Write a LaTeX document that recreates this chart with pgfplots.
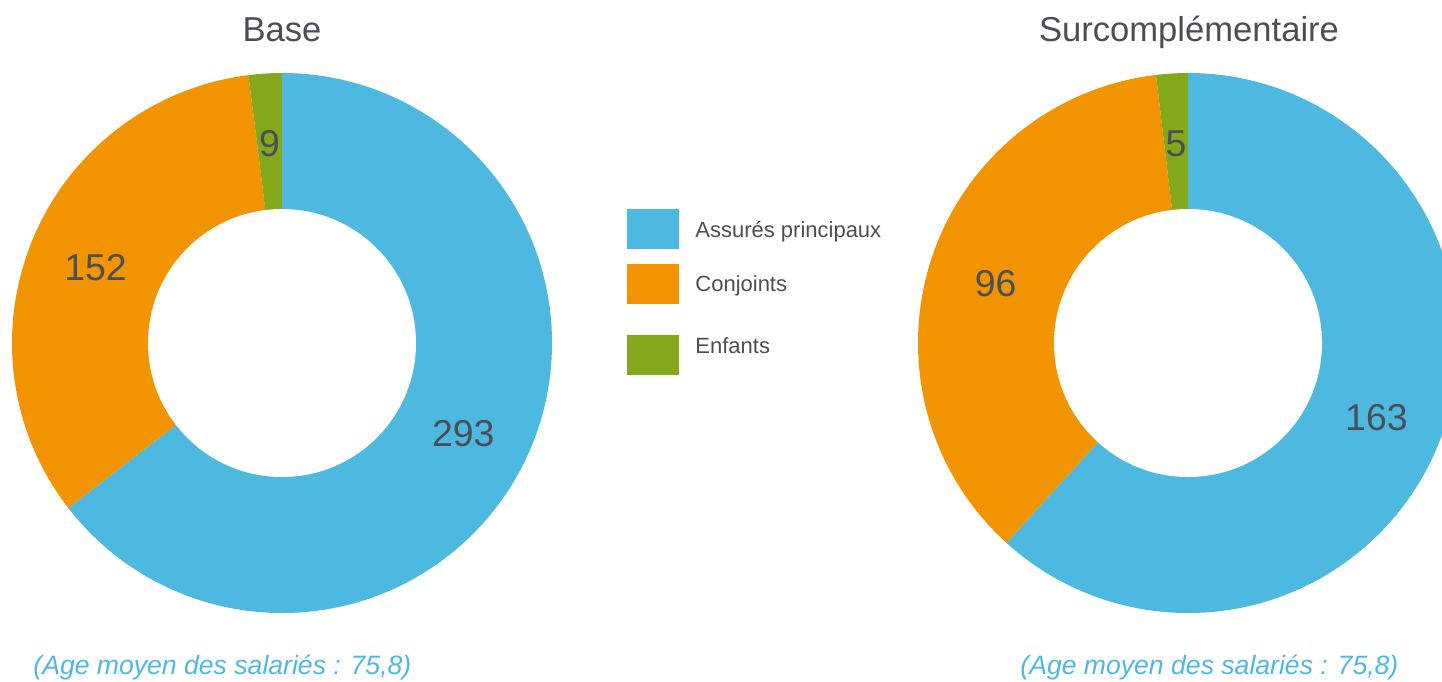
\documentclass[border=0pt]{standalone}
\usepackage{pgfplots}
\usepackage{pgfplotstable}
\pgfplotsset{compat=1.18}
\usepackage{fontspec}
\setmainfont{Liberation Sans}

\definecolor{cblue}{HTML}{4DB9E0}
\definecolor{corange}{HTML}{F29300}
\definecolor{cgreen}{HTML}{84A81C}
\definecolor{ctext}{HTML}{4A4F55}

% effectifs : Assures principaux, Conjoints, Enfants
\pgfplotstableread{
value
293
152
9
}\basedata
\pgfplotstableread{
value
163
96
5
}\surdata

\newcommand\getval[3]{\pgfplotstablegetelem{#2}{value}\of#1\let#3\pgfplotsretval}

% angles (clockwise from the top)
\getval\basedata{0}\bA \getval\basedata{1}\bB \getval\basedata{2}\bC
\pgfmathsetmacro\bT{\bA+\bB+\bC}
\pgfmathsetmacro\bOne{90-360*(\bA/\bT)}
\pgfmathsetmacro\bTwo{\bOne-360*(\bB/\bT)}
\pgfmathsetmacro\bThree{\bTwo-360*(\bC/\bT)}
\pgfmathsetmacro\bmA{(90+\bOne)/2}
\pgfmathsetmacro\bmB{(\bOne+\bTwo)/2}
\pgfmathsetmacro\bmC{(\bTwo+\bThree)/2}

\getval\surdata{0}\sA \getval\surdata{1}\sB \getval\surdata{2}\sC
\pgfmathsetmacro\sT{\sA+\sB+\sC}
\pgfmathsetmacro\sOne{90-360*(\sA/\sT)}
\pgfmathsetmacro\sTwo{\sOne-360*(\sB/\sT)}
\pgfmathsetmacro\sThree{\sTwo-360*(\sC/\sT)}
\pgfmathsetmacro\smA{(90+\sOne)/2}
\pgfmathsetmacro\smB{(\sOne+\sTwo)/2}
\pgfmathsetmacro\smC{(\sTwo+\sThree)/2}

\def\Rout{135pt}
\def\Rin{67pt}
\def\Rlab{101pt}

\begin{document}
\begin{tikzpicture}
\useasboundingbox (0,0) rectangle (721pt,340.5pt);
\clip (0,0) rectangle (721pt,340.5pt);
\begin{axis}[
    at={(0,0)}, anchor=south west,
    width=721pt, height=340.5pt, scale only axis,
    xmin=0, xmax=1442, ymin=0, ymax=681,
    y dir=reverse,
    hide axis, clip=false
]
\addplot[draw=none] coordinates {(0,0) (1442,681)};

% Base
\fill[cblue] (axis cs:282,343) -- ++(90:\Rout) arc[start angle=90, end angle=\bOne, radius=\Rout] -- cycle;
\fill[corange] (axis cs:282,343) -- ++(\bOne:\Rout) arc[start angle=\bOne, end angle=\bTwo, radius=\Rout] -- cycle;
\fill[cgreen] (axis cs:282,343) -- ++(\bTwo:\Rout) arc[start angle=\bTwo, end angle=\bThree, radius=\Rout] -- cycle;
\fill[white] (axis cs:282,343) circle[radius=\Rin];
\path (axis cs:282,343) ++(\bmA:\Rlab) node[ctext, yshift=-1pt, font=\fontsize{18.7pt}{22pt}\selectfont] {\bA};
\path (axis cs:282,343) ++(\bmB:\Rlab) node[ctext, yshift=-1pt, font=\fontsize{18.7pt}{22pt}\selectfont] {\bB};
\path (axis cs:282,343) ++(\bmC:\Rlab) node[ctext, yshift=-1pt, font=\fontsize{18.7pt}{22pt}\selectfont] {\bC};

% Surcomplementaire
\fill[cblue] (axis cs:1188,343) -- ++(90:\Rout) arc[start angle=90, end angle=\sOne, radius=\Rout] -- cycle;
\fill[corange] (axis cs:1188,343) -- ++(\sOne:\Rout) arc[start angle=\sOne, end angle=\sTwo, radius=\Rout] -- cycle;
\fill[cgreen] (axis cs:1188,343) -- ++(\sTwo:\Rout) arc[start angle=\sTwo, end angle=\sThree, radius=\Rout] -- cycle;
\fill[white] (axis cs:1188,343) circle[radius=\Rin];
\path (axis cs:1188,343) ++(\smA:\Rlab) node[ctext, yshift=-1pt, font=\fontsize{18.7pt}{22pt}\selectfont] {\sA};
\path (axis cs:1188,343) ++(\smB:\Rlab) node[ctext, yshift=-1pt, font=\fontsize{18.7pt}{22pt}\selectfont] {\sB};
\path (axis cs:1188,343) ++(\smC:\Rlab) node[ctext, yshift=-1pt, font=\fontsize{18.7pt}{22pt}\selectfont] {\sC};

% titles
\node[ctext, anchor=base, font=\fontsize{17.3pt}{20pt}\selectfont] at (axis cs:282,41) {Base};
\node[ctext, anchor=base, font=\fontsize{17.3pt}{20pt}\selectfont] at (axis cs:1189,41) {Surcomplémentaire};

% legend
\fill[cblue] (axis cs:627,209) rectangle (axis cs:679,249);
\fill[corange] (axis cs:627,264) rectangle (axis cs:679,304);
\fill[cgreen] (axis cs:627,335) rectangle (axis cs:679,375);
\node[ctext, anchor=base west, inner sep=0pt, font=\fontsize{11pt}{13pt}\selectfont] at (axis cs:695,237) {Assurés principaux};
\node[ctext, anchor=base west, inner sep=0pt, font=\fontsize{11pt}{13pt}\selectfont] at (axis cs:695,291) {Conjoints};
\node[ctext, anchor=base west, inner sep=0pt, font=\fontsize{11pt}{13pt}\selectfont] at (axis cs:695,353) {Enfants};

% captions
\node[cblue, anchor=base west, inner sep=0pt, font=\fontsize{13.3pt}{16pt}\selectfont\itshape] at (axis cs:33,674) {(Age moyen des salariés : 75,8)};
\node[cblue, anchor=base west, inner sep=0pt, font=\fontsize{13.3pt}{16pt}\selectfont\itshape] at (axis cs:1020,674) {(Age moyen des salariés : 75,8)};
\end{axis}
\end{tikzpicture}
\end{document}
